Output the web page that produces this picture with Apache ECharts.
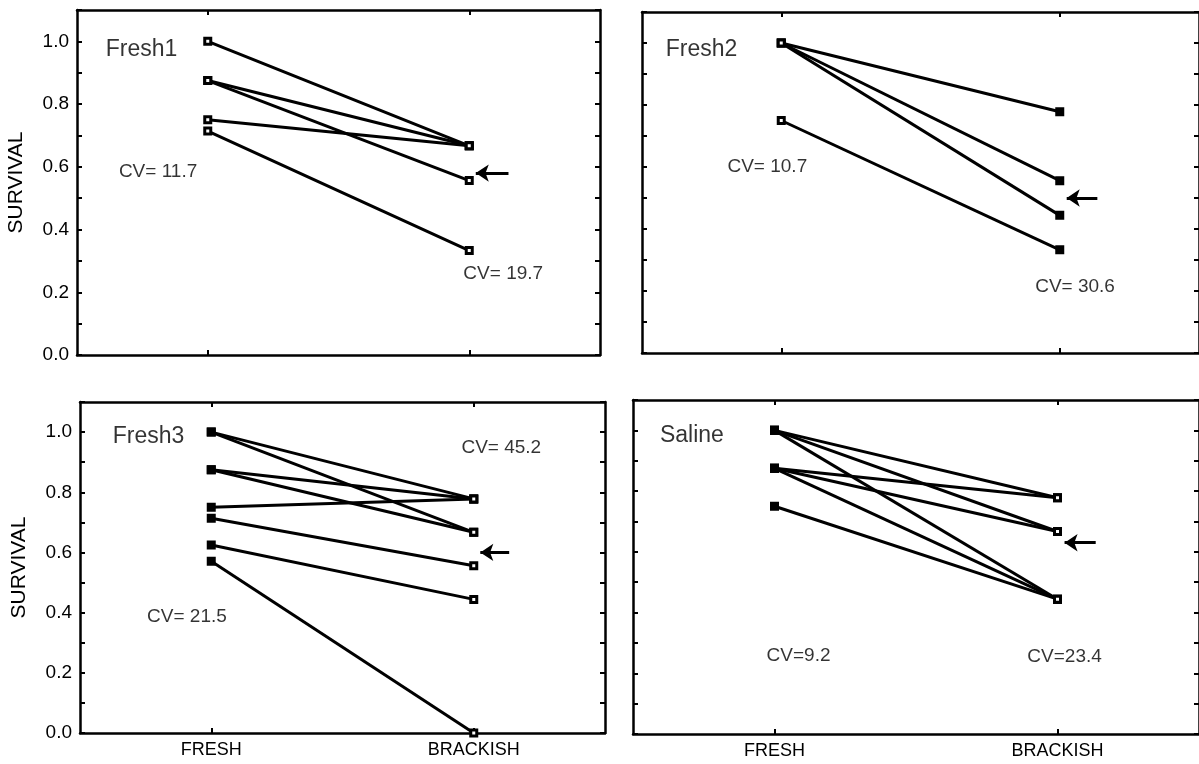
<!DOCTYPE html>
<html>
<head>
<meta charset="utf-8">
<title>Survival by salinity</title>
<script src="https://cdn.jsdelivr.net/npm/echarts@6/dist/echarts.min.js"></script>
<style>
  html, body { margin: 0; padding: 0; background: #fff; }
  #chart { width: 1199px; height: 764px; }
</style>
</head>
<body>
<div id="chart"></div>
<script>
// data
const categories = ['FRESH', 'BRACKISH']
const panelNames = ['Fresh1', 'Fresh2', 'Fresh3', 'Saline']

// each pair = [survival in fresh, survival in brackish]
const fresh1Pairs = [[1.0, 0.667], [0.875, 0.667], [0.875, 0.556], [0.75, 0.667], [0.714, 0.333]]
const fresh2Pairs = [[1.0, 0.778], [1.0, 0.556], [1.0, 0.444], [0.75, 0.333]]
const fresh3Pairs = [[1.0, 0.778], [1.0, 0.667], [0.875, 0.778], [0.875, 0.667],
                     [0.75, 0.778], [0.714, 0.556], [0.625, 0.444], [0.571, 0.0]]
const salinePairs = [[1.0, 0.778], [1.0, 0.667], [1.0, 0.444], [0.875, 0.778],
                     [0.875, 0.667], [0.875, 0.444], [0.75, 0.444]]

const cvFresh = ['CV= 11.7', 'CV= 10.7', 'CV= 21.5', 'CV=9.2']
const cvBrackish = ['CV= 19.7', 'CV= 30.6', 'CV= 45.2', 'CV=23.4']
const brackishArrow = [0.58, 0.50, 0.60, 0.63]   // arrow level in brackish

const allPairs = [fresh1Pairs, fresh2Pairs, fresh3Pairs, salinePairs]

// layout of the 4 boxes (pixels) and annotation spots (x 0..4, FRESH=1, BRACKISH=3)
const panels = [
  { left: 77, top: 10, width: 523, height: 345, yLab: true, xLab: false,
    title: [0.22, 0.975], cvF: [0.62, 0.585], cvB: [3.26, 0.26], arrow: [3.3, 3.05], fill: [false, false] },
  { left: 642, top: 12, width: 562, height: 341, yLab: false, xLab: false,
    title: [0.17, 0.98], cvF: [0.9, 0.6], cvB: [3.11, 0.215], arrow: [3.27, 3.05], fill: [false, true] },
  { left: 80, top: 402, width: 525, height: 331, yLab: true, xLab: true,
    title: [0.25, 0.985], cvF: [0.815, 0.385], cvB: [3.21, 0.947], arrow: [3.27, 3.05], fill: [true, false] },
  { left: 633, top: 400, width: 578, height: 334, yLab: false, xLab: true,
    title: [0.19, 0.984], cvF: [1.17, 0.258], cvB: [3.05, 0.255], arrow: [3.27, 3.05], fill: [true, false] }
]

const FONT = '"Liberation Sans", Arial, sans-serif'
const axisLine = { show: true, onZero: false, lineStyle: { color: '#000', width: 2.5 } }
const tick = { show: true, inside: true, length: 5, lineStyle: { color: '#000', width: 2 } }
const ink = { color: '#000', fontFamily: FONT }

const grid = [], xAxis = [], yAxis = [], series = []

panels.forEach((p, i) => {
  grid.push({ left: p.left, top: p.top, width: p.width, height: p.height, containLabel: false })

  // bottom category axis, top mirror, hidden value axis for annotations
  xAxis.push({
    gridIndex: i, type: 'category', data: categories, boundaryGap: true, position: 'bottom',
    axisLine, axisTick: { ...tick, alignWithLabel: true },
    axisLabel: { show: p.xLab, ...ink, fontSize: 18, margin: 8 },
    splitLine: { show: false }
  })
  xAxis.push({
    gridIndex: i, type: 'category', data: categories, boundaryGap: true, position: 'top',
    axisLine, axisTick: { ...tick, alignWithLabel: true },
    axisLabel: { show: false }, splitLine: { show: false }
  })
  xAxis.push({ gridIndex: i, type: 'value', min: 0, max: 4, show: false })

  yAxis.push({
    gridIndex: i, type: 'value', min: 0, max: 1.1, interval: 0.1, position: 'left',
    axisLine, axisTick: tick, splitLine: { show: false },
    name: p.yLab ? 'SURVIVAL' : '', nameLocation: 'middle', nameRotate: 90, nameGap: 50,
    nameTextStyle: { ...ink, fontSize: 21 },
    axisLabel: {
      show: p.yLab, ...ink, fontSize: 19, margin: 8,
      formatter: v => (Math.round(v * 10) % 2 === 0 && v < 1.05) ? v.toFixed(1) : ''
    }
  })
  yAxis.push({
    gridIndex: i, type: 'value', min: 0, max: 1.1, interval: 0.1, position: 'right',
    axisLine, axisTick: tick, axisLabel: { show: false }, splitLine: { show: false }
  })

  // one line per replicate
  allPairs[i].forEach(pair => {
    series.push({
      type: 'line', xAxisIndex: i * 3, yAxisIndex: i * 2,
      data: pair.map((v, k) => ({ value: v, itemStyle: { color: p.fill[k] ? '#000' : '#fff' } })),
      symbol: 'rect', symbolSize: 6, showSymbol: true, clip: false,
      itemStyle: { borderColor: '#000', borderWidth: 3 },
      lineStyle: { color: '#000', width: 3 },
      silent: true, animation: false, z: 3
    })
  })

  // panel name, CV texts and the arrow
  series.push({
    type: 'scatter', xAxisIndex: i * 3 + 2, yAxisIndex: i * 2,
    symbolSize: 0, silent: true, animation: false,
    label: { show: true, formatter: '{b}', ...ink, fontSize: 19, position: 'inside' },
    data: [
      { name: panelNames[i], value: p.title,
        label: { position: 'right', distance: 0, fontSize: 23 } },
      { name: cvFresh[i], value: p.cvF },
      { name: cvBrackish[i], value: p.cvB }
    ],
    markLine: {
      silent: true, animation: false,
      symbol: ['none', 'arrow'], symbolSize: 13,
      label: { show: false },
      lineStyle: { color: '#000', width: 3, type: 'solid' },
      data: [[
        { coord: [p.arrow[0], brackishArrow[i]] },
        { coord: [p.arrow[1], brackishArrow[i]] }
      ]]
    }
  })
})

const myChart = echarts.init(document.getElementById('chart'))
myChart.setOption({
  backgroundColor: '#fff',
  animation: false,
  textStyle: { fontFamily: FONT },
  grid, xAxis, yAxis, series
})
</script>
</body>
</html>
